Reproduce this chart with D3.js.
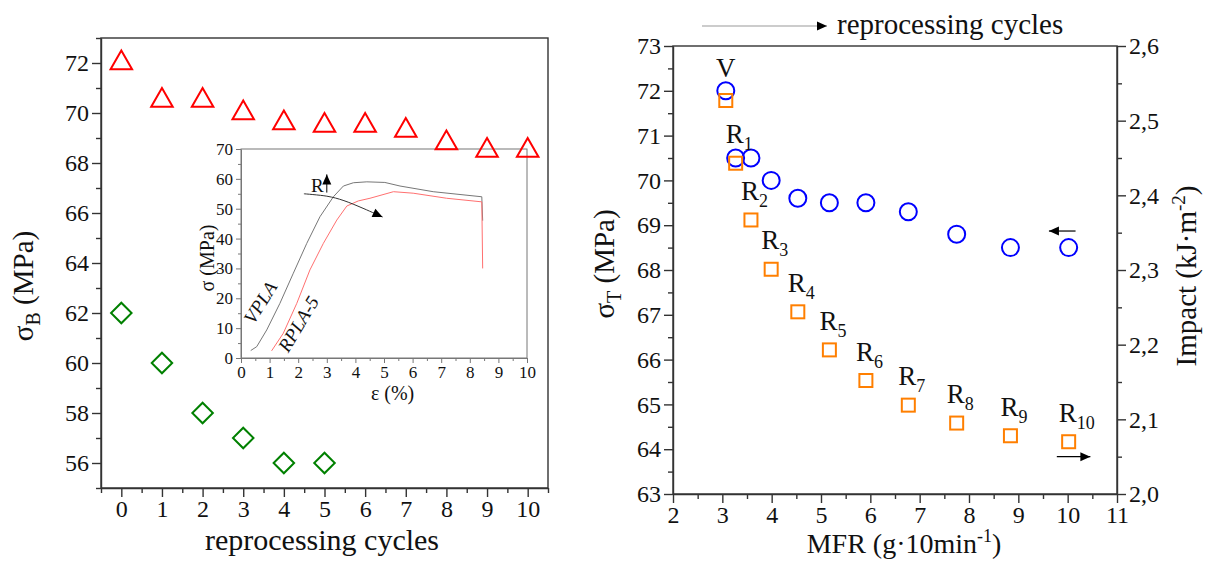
<!DOCTYPE html>
<html>
<head>
<meta charset="utf-8">
<script src="https://cdn.jsdelivr.net/npm/d3@7"></script>
<style>
body{margin:0;background:#fff}
text{font-family:"Liberation Serif","Times New Roman",serif;fill:#111}
</style>
</head>
<body>
<svg id="fig" width="1218" height="561"></svg>
<script>
// ---- data ----
// left panel: sigma_B against reprocessing cycles
var cycles = [0, 1, 2, 3, 4, 5, 6, 7, 8, 9, 10];
var sigmaB = [72, 70.5, 70.5, 70, 69.6, 69.5, 69.5, 69.3, 68.8, 68.5, 68.5];
var cycles2 = [0, 1, 2, 3, 4, 5];
var sigmaB2 = [62, 60, 58, 57, 56, 56];

// inset: stress-strain curves
var strainV = [0.34, 0.55, 0.9, 1.36, 1.83, 2.3, 2.76, 3.23, 3.58, 3.93, 4.4, 5.03, 5.56, 6.72, 8.42, 8.45];
var stressV = [2.5, 3.8, 9.4, 18.3, 28.4, 38.4, 47.3, 54, 57.6, 58.7, 59, 58.8, 57.6, 55.7, 54, 46];
var strainR = [1.07, 1.48, 1.95, 2.41, 2.88, 3.35, 3.7, 4.1, 4.51, 5.33, 6.02, 7.19, 8.42, 8.45];
var stressR = [2.4, 8.3, 18.3, 29.5, 38.4, 46.2, 50.9, 52.6, 53.5, 55.7, 55.2, 53.5, 52.3, 30];
var arrowStrain = [2.2, 3.0, 3.6, 4.3, 4.95];
var arrowStress = [55, 54.2, 52.7, 50, 47.2];

// right panel: sigma_T and impact against MFR
var mfr = [3.07, 3.27, 3.58, 3.99, 4.53, 5.17, 5.91, 6.77, 7.75, 8.84, 10.02];
var sigmaT = [72, 70.5, 70.5, 70, 69.6, 69.5, 69.5, 69.3, 68.8, 68.5, 68.5];
var impact = [2.527, 2.443, 2.367, 2.301, 2.244, 2.193, 2.152, 2.119, 2.095, 2.078, 2.070];
var subIdx = ["", "1", "2", "3", "4", "5", "6", "7", "8", "9", "10"];

var svg = d3.select("#fig");

svg.append("defs").append("marker")
    .attr("id", "arr")
    .attr("viewBox", "0 -5 10 10")
    .attr("refX", 10).attr("refY", 0)
    .attr("markerWidth", 15).attr("markerHeight", 10)
    .attr("markerUnits", "userSpaceOnUse")
    .attr("orient", "auto")
    .append("path").attr("d", "M0,-4.5L10,0L0,4.5Z").attr("fill", "#000");

function range(a, b, s) {
    var r = [];
    for (var v = a; v <= b + 1e-9; v += s) r.push(+v.toFixed(3));
    return r;
}

// one axis = major ticks with labels + minor ticks without
function ax(tr, gen, major, minor, fmt, o) {
    var g = svg.append("g").attr("transform", tr);
    g.call(gen.tickValues(major).tickFormat(fmt).tickSize(o.major).tickSizeOuter(0).tickPadding(o.pad));
    var m = svg.append("g").attr("transform", tr);
    m.call(gen.tickValues(minor).tickFormat("").tickSize(o.minor).tickSizeOuter(0));
    m.select(".domain").remove();
    [g, m].forEach(function (s) {
        s.selectAll("line,path").attr("stroke", o.color).attr("stroke-width", o.w);
    });
    g.selectAll("text").style("font-size", o.fs + "px").attr("fill", "#111");
    return g;
}

var mainAx = {major: 9, minor: 5, pad: 3, color: "#333", w: 1.4, fs: 24};
var insetAx = {major: 5, minor: 3, pad: 3, color: "#777", w: 1, fs: 17};

/***** left panel *****/
var xL = d3.scaleLinear().domain([-0.5, 10.5]).range([101, 548]);
var yL = d3.scaleLinear().domain([55, 73]).range([488, 38]);

svg.append("rect").attr("x", 101).attr("y", 38).attr("width", 447).attr("height", 450)
    .attr("fill", "none").attr("stroke", "#333").attr("stroke-width", 1.4);
ax("translate(0,488)", d3.axisBottom(xL), cycles, range(-0.5, 10.5, 1), d3.format("d"), mainAx);
ax("translate(101,0)", d3.axisLeft(yL), range(56, 72, 2), range(55, 73, 2), d3.format("d"), mainAx);

svg.append("text").attr("x", 322).attr("y", 550).attr("text-anchor", "middle")
    .style("font-size", "30px").text("reprocessing cycles");
var tB = svg.append("text").attr("transform", "translate(33,286)rotate(-90)")
    .attr("text-anchor", "middle").style("font-size", "29px");
tB.append("tspan").text("σ");
tB.append("tspan").attr("dy", 7).style("font-size", "20px").text("B");
tB.append("tspan").attr("dy", -7).text(" (MPa)");

// inset
var xI = d3.scaleLinear().domain([0, 10]).range([241, 527]);
var yI = d3.scaleLinear().domain([0, 70]).range([358, 149]);
svg.append("rect").attr("x", 241).attr("y", 149).attr("width", 286).attr("height", 209)
    .attr("fill", "none").attr("stroke", "#777").attr("stroke-width", 1);
ax("translate(0,358)", d3.axisBottom(xI), range(0, 10, 1), range(0.5, 9.5, 1), d3.format("d"), insetAx);
ax("translate(241,0)", d3.axisLeft(yI), range(0, 70, 10), range(5, 65, 10), d3.format("d"), insetAx);

var lineI = d3.line().x(function (d) { return xI(d[0]); }).y(function (d) { return yI(d[1]); });
svg.append("path").attr("d", lineI(d3.zip(strainV, stressV)))
    .attr("fill", "none").attr("stroke", "#777").attr("stroke-width", 1);
svg.append("path").attr("d", lineI(d3.zip(strainR, stressR)))
    .attr("fill", "none").attr("stroke", "#ff7070").attr("stroke-width", 1);
svg.append("path").attr("d", lineI.curve(d3.curveCardinal)(d3.zip(arrowStrain, arrowStress)))
    .attr("fill", "none").attr("stroke", "#333").attr("stroke-width", 1)
    .attr("marker-end", "url(#arr)");
lineI.curve(d3.curveLinear);

svg.append("text").attr("x", xI(2.45)).attr("y", yI(55.6)).style("font-size", "19px").text("R");
svg.append("line").attr("x1", xI(3.0)).attr("x2", xI(3.0)).attr("y1", yI(55.4)).attr("y2", yI(61.5))
    .attr("stroke", "#000").attr("stroke-width", 1).attr("marker-end", "url(#arr)");
svg.append("text").attr("transform", "translate(" + xI(0.45) + "," + yI(11) + ")rotate(-58)")
    .style("font-size", "19px").style("font-style", "italic").text("VPLA");
svg.append("text").attr("transform", "translate(" + xI(1.65) + "," + yI(1.5) + ")rotate(-59)")
    .style("font-size", "19px").style("font-style", "italic").text("RPLA-5");
svg.append("text").attr("x", xI(5.3)).attr("y", 400).attr("text-anchor", "middle")
    .style("font-size", "20px").text("ε (%)");
svg.append("text").attr("transform", "translate(214,258)rotate(-90)").attr("text-anchor", "middle")
    .style("font-size", "20px").text("σ (MPa)");

// markers
svg.selectAll(".tri").data(d3.zip(cycles, sigmaB)).enter().append("path")
    .attr("d", d3.symbol(d3.symbolTriangle).size(200))
    .attr("transform", function (d) { return "translate(" + xL(d[0]) + "," + yL(d[1]) + ")"; })
    .attr("fill", "none").attr("stroke", "#ff0000").attr("stroke-width", 2);
svg.selectAll(".dia").data(d3.zip(cycles2, sigmaB2)).enter().append("path")
    .attr("d", d3.symbol(d3.symbolSquare).size(210))
    .attr("transform", function (d) { return "translate(" + xL(d[0]) + "," + yL(d[1]) + ")rotate(45)"; })
    .attr("fill", "none").attr("stroke", "#008000").attr("stroke-width", 2);

/***** right panel *****/
var xR = d3.scaleLinear().domain([2, 11]).range([673, 1117]);
var yT = d3.scaleLinear().domain([63, 73]).range([494, 46]);
var yI2 = d3.scaleLinear().domain([2.0, 2.6]).range([494, 46]);

svg.append("rect").attr("x", 673).attr("y", 46).attr("width", 444).attr("height", 448)
    .attr("fill", "none").attr("stroke", "#333").attr("stroke-width", 1.4);
ax("translate(0,494)", d3.axisBottom(xR), range(2, 11, 1), range(2.5, 10.5, 1), d3.format("d"), mainAx);
ax("translate(673,0)", d3.axisLeft(yT), range(63, 73, 1), range(63.5, 72.5, 1), d3.format("d"), mainAx);
ax("translate(1117,0)", d3.axisRight(yI2), range(2.0, 2.6, 0.1), range(2.05, 2.55, 0.1),
    function (v) { return d3.format(".1f")(v).replace(".", ","); }, mainAx);

var tX = svg.append("text").attr("x", 904).attr("y", 553).attr("text-anchor", "middle").style("font-size", "28px");
tX.append("tspan").text("MFR (g·10min");
tX.append("tspan").attr("dy", -11).style("font-size", "18px").text("-1");
tX.append("tspan").attr("dy", 11).text(")");

var tT = svg.append("text").attr("transform", "translate(614,264)rotate(-90)")
    .attr("text-anchor", "middle").style("font-size", "29px");
tT.append("tspan").text("σ");
tT.append("tspan").attr("dy", 7).style("font-size", "20px").text("T");
tT.append("tspan").attr("dy", -7).text(" (MPa)");

var tI = svg.append("text").attr("transform", "translate(1196,276)rotate(-90)")
    .attr("text-anchor", "middle").style("font-size", "29px");
tI.append("tspan").text("Impact (kJ·m");
tI.append("tspan").attr("dy", -11).style("font-size", "19px").text("-2");
tI.append("tspan").attr("dy", 11).text(")");

// top annotation
svg.append("line").attr("x1", 702).attr("x2", 827).attr("y1", 26).attr("y2", 26)
    .attr("stroke", "#bbb").attr("stroke-width", 1.3).attr("marker-end", "url(#arr)");
svg.append("text").attr("x", 837).attr("y", 34).style("font-size", "29px").text("reprocessing cycles");

// side arrows
svg.append("line").attr("x1", xR(10.16)).attr("x2", xR(9.62)).attr("y1", yT(68.87)).attr("y2", yT(68.87))
    .attr("stroke", "#000").attr("stroke-width", 1.2).attr("marker-end", "url(#arr)");
svg.append("line").attr("x1", xR(9.78)).attr("x2", xR(10.46)).attr("y1", yI2(2.05)).attr("y2", yI2(2.05))
    .attr("stroke", "#000").attr("stroke-width", 1.2).attr("marker-end", "url(#arr)");

svg.selectAll(".circ").data(d3.zip(mfr, sigmaT)).enter().append("circle")
    .attr("cx", function (d) { return xR(d[0]); })
    .attr("cy", function (d) { return yT(d[1]); })
    .attr("r", 8.5).attr("fill", "none").attr("stroke", "#0000ff").attr("stroke-width", 2);
svg.selectAll(".sq").data(d3.zip(mfr, impact)).enter().append("rect")
    .attr("x", function (d) { return xR(d[0]) - 6.5; })
    .attr("y", function (d) { return yI2(d[1]) - 6.5; })
    .attr("width", 13).attr("height", 13)
    .attr("fill", "none").attr("stroke", "#ff7f00").attr("stroke-width", 2);

// sample labels
svg.append("text").attr("x", xR(mfr[0])).attr("y", yT(sigmaT[0]) - 14).attr("text-anchor", "middle")
    .style("font-size", "27px").text("V");
mfr.forEach(function (m, i) {
    if (i === 0) return;
    var t = svg.append("text").attr("x", xR(m) - 10).attr("y", yI2(impact[i]) - 20).style("font-size", "27px");
    t.append("tspan").text("R");
    t.append("tspan").attr("dy", 7).style("font-size", "18px").text(subIdx[i]);
});
</script>
</body>
</html>
